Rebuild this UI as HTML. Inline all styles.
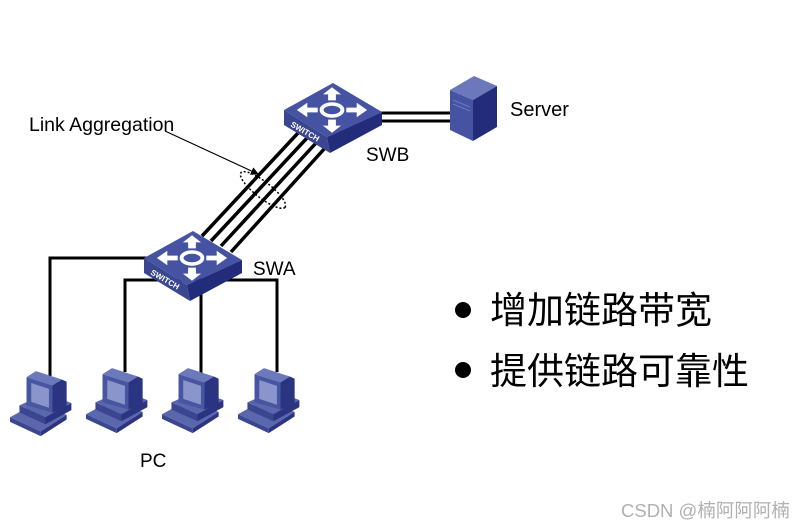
<!DOCTYPE html>
<html><head><meta charset="utf-8"><style>
html,body{margin:0;padding:0;background:#fff}
svg{display:block}
</style></head><body>
<svg width="808" height="529" viewBox="0 0 808 529" xmlns="http://www.w3.org/2000/svg" font-family="Liberation Sans, Arial, sans-serif">
<defs>
<marker id="ar" markerWidth="8" markerHeight="8" refX="7" refY="4" orient="auto" markerUnits="userSpaceOnUse">
<path d="M0,0 L8,4 L0,8 z" fill="#000"/></marker>
<g id="pc">
 <polygon points="0,40 22,28 48,38 26,52" fill="#5a67ad"/>
 <polygon points="0,40 26,52 26,56 0,44" fill="#3a4690"/>
 <polygon points="26,52 48,38 48,42 26,56" fill="#2a3480"/>
 <polygon points="8,30 30,20 52,28 30,40" fill="#5a67ad"/>
 <polygon points="8,30 30,40 30,46 8,36" fill="#3a4690"/>
 <polygon points="30,40 52,28 52,34 30,46" fill="#2a3480"/>
 <polygon points="14,6 22,1 44,8 36,13" fill="#6b78bb"/>
 <polygon points="14,6 36,13 36,36 14,30" fill="#4855a0"/>
 <polygon points="18,11 33,16 33,32 18,27" fill="#8a95cc"/>
 <polygon points="36,13 44,8 48,10 48,32 36,36" fill="#2a3480"/>
</g>
<g id="sw">
 <polygon points="0,27 49,0 98,29 43,54" fill="#4653a3"/>
 <polygon points="0,27 43,54 46,70 0,42" fill="#3a4690"/>
 <polygon points="43,54 98,29 98,42 46,70" fill="#232c7a"/>
 <g fill="#fff" transform="translate(48,27) scale(1.3,1.2)">
  <ellipse cx="0" cy="0" rx="8" ry="5" fill="none" stroke="#fff" stroke-width="3"/>
  <polygon points="-3,-8 3,-8 3,-13 7,-13 0,-19 -7,-13 -3,-13"/>
  <polygon points="-3,8 3,8 3,13 7,13 0,19 -7,13 -3,13"/>
  <polygon points="-11,-2 -11,2 -19,2 -19,6 -27,0 -19,-6 -19,-2"/>
  <polygon points="11,-2 11,2 19,2 19,6 27,0 19,-6 19,-2"/>
 </g>
 <text x="6" y="43" font-size="8" font-weight="bold" fill="#fff" transform="rotate(30 6 43)">SWITCH</text>
</g>
</defs>

<g stroke="#000" stroke-width="3" fill="none">
 <polyline points="150,258 50,258 50,376"/>
 <polyline points="125,372 125,280 277,280 277,372"/>
 <line x1="201" y1="280" x2="201" y2="374"/>
</g>
<g stroke="#000" stroke-width="3">
 <line x1="381" y1="113" x2="452" y2="113"/>
 <line x1="381" y1="121" x2="452" y2="121"/>
</g>
<g stroke="#000" stroke-width="3.5">
 <line x1="202" y1="236" x2="298" y2="133"/>
 <line x1="211" y1="241" x2="307" y2="138"/>
 <line x1="221" y1="246" x2="316" y2="143"/>
 <line x1="231" y1="252" x2="325" y2="148"/>
</g>
<ellipse cx="263" cy="190" rx="28" ry="8" transform="rotate(38 263 190)" fill="none" stroke="#000" stroke-width="1.5" stroke-dasharray="2,2"/>
<line x1="165" y1="131" x2="258" y2="174" stroke="#000" stroke-width="1.2" marker-end="url(#ar)"/>
<text x="29" y="131" font-size="19.5">Link Aggregation</text>

<use href="#sw" x="284" y="83"/>
<use href="#sw" x="144" y="231"/>

<polygon points="450,90 474,76 497,86 473,100" fill="#6b78bb"/>
<polygon points="450,90 473,100 473,141 450,130" fill="#4653a3"/>
<polygon points="473,100 497,86 497,127 473,141" fill="#232c7a"/>
<g stroke="#6b78bb" stroke-width="1"><line x1="453" y1="100" x2="470" y2="107"/><line x1="453" y1="104" x2="470" y2="111"/></g>

<text x="510" y="116" font-size="20">Server</text>
<text x="366" y="161" font-size="19">SWB</text>
<text x="253" y="275" font-size="19">SWA</text>
<text x="140" y="467" font-size="19">PC</text>

<use href="#pc" transform="translate(10,370) scale(1.18)"/>
<use href="#pc" transform="translate(86,367) scale(1.18)"/>
<use href="#pc" transform="translate(162,367) scale(1.18)"/>
<use href="#pc" transform="translate(238,367) scale(1.18)"/>

<circle cx="463" cy="310" r="8" fill="#000"/>
<circle cx="463" cy="370" r="8" fill="#000"/>
<text x="490" y="323" font-size="37" font-family="Noto Sans CJK SC, sans-serif">增加链路带宽</text>
<text x="490" y="384" font-size="37" font-family="Noto Sans CJK SC, sans-serif">提供链路可靠性</text>
<text x="621" y="517" font-size="18.5" fill="#b0b0b0" font-family="Liberation Sans, Noto Sans CJK SC, sans-serif">CSDN @楠阿阿阿楠</text>
</svg>
</body></html>
